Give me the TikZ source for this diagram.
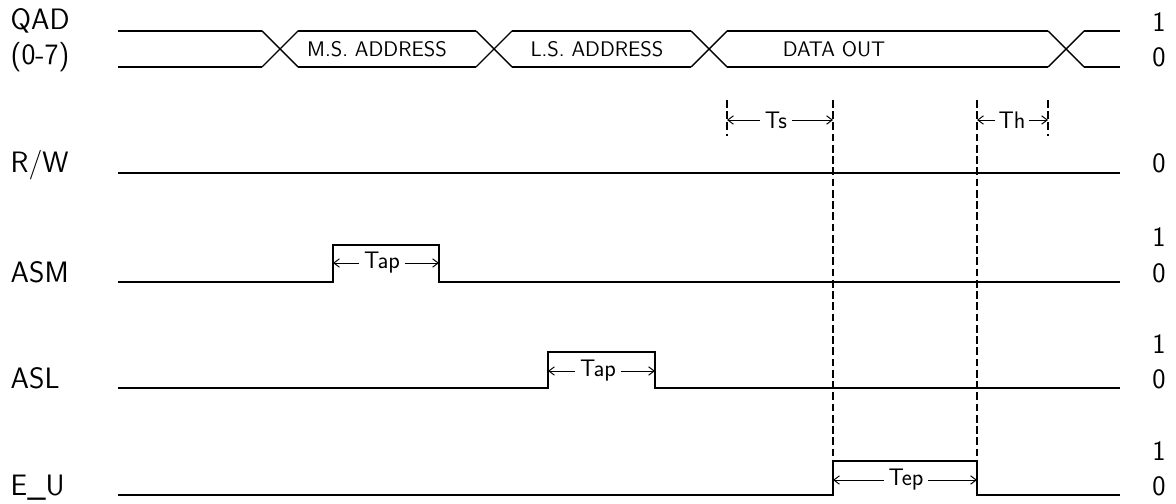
\documentclass[tikz,border=0pt]{standalone}
\usetikzlibrary{arrows.meta}

\begin{document}
\begin{tikzpicture}[x=0.025cm,y=-0.025cm,line width=1pt,
	sig/.style={font=\sffamily\fontsize{21}{25}\selectfont,inner sep=0pt,anchor=base west},
	lvl/.style={font=\sffamily\fontsize{20}{24}\selectfont,inner sep=0pt,anchor=base},
	bus/.style={font=\sffamily\fontsize{15}{18}\selectfont,inner sep=0pt},
	tm/.style={font=\sffamily\fontsize{17}{20}\selectfont,inner sep=3pt},
	dim/.style={line width=0.7pt,-{Straight Barb[length=4pt,width=6pt]}},
	guide/.style={line width=0.9pt,dash pattern=on 5.5pt off 2.5pt}]
	\useasboundingbox (0,0) rectangle (1176,504);
	\node[sig] (qad) at (10,30) {QAD};
	\node[sig] (rng) at (10,65) {(0-7)};
	\node[sig] (rw) at (10,173) {R/W};
	\node[sig] (asm) at (10,282) {ASM};
	\node[sig] (asl) at (10,388) {ASL};
	\node[sig] (eu) at (10,495) {E\_U};
	\foreach \n/\y in {qad/67,asm/282,asl/388,eu/495}{
		\node[lvl] (\n1) at (1159,\y-35) {1};
		\node[lvl] (\n0) at (1159,\y) {0};
	}
	\node[lvl] (rw0) at (1159,173) {0};
	\foreach \c in {280,494,709,1066}{
		\draw (\c-18,31) -- (\c+18,67);
		\draw (\c-18,67) -- (\c+18,31);
	}
	\foreach \a/\b in {118/262,298/476,512/691,727/1048,1084/1120}{
		\draw (\a,31) -- (\b,31);
		\draw (\a,67) -- (\b,67);
	}
	\node[bus] (msa) at (377,49) {M.S. ADDRESS};
	\node[bus] (lsa) at (597,49) {L.S. ADDRESS};
	\node[bus] (dout) at (834,49) {DATA OUT};
	\draw (118,173) -- (1120,173);
	\draw (118,282) -| (333,245) -| (439,282) -- (1120,282);
	\draw (118,388) -| (548,352) -| (655,388) -- (1120,388);
	\draw (118,495) -| (833,461) -| (977,495) -- (1120,495);
	\draw[guide] (727,100) -- (727,136);
	\draw[guide] (833,100) -- (833,457);
	\draw[guide] (977,100) -- (977,457);
	\draw[guide] (1048,100) -- (1048,136);
	\coordinate (ts l) at (727,120);
	\coordinate (ts r) at (833,120);
	\coordinate (th l) at (977,120);
	\coordinate (th r) at (1048,120);
	\coordinate (tapm l) at (333,263);
	\coordinate (tapm r) at (439,263);
	\coordinate (tapl l) at (548,371);
	\coordinate (tapl r) at (655,371);
	\coordinate (tep l) at (833,480);
	\coordinate (tep r) at (977,480);
	\node[tm] (ts) at (776,120) {Ts};
	\node[tm,inner sep=2pt] (th) at (1012,120) {Th};
	\node[tm] (tapm) at (382,263) {Tap};
	\node[tm] (tapl) at (598,371) {Tap};
	\node[tm] (tep) at (906,480) {Tep};
	\foreach \t in {ts,th,tapm,tapl,tep}{
		\draw[dim] (\t) -- (\t\space l);
		\draw[dim] (\t) -- (\t\space r);
	}
\end{tikzpicture}
\end{document}
